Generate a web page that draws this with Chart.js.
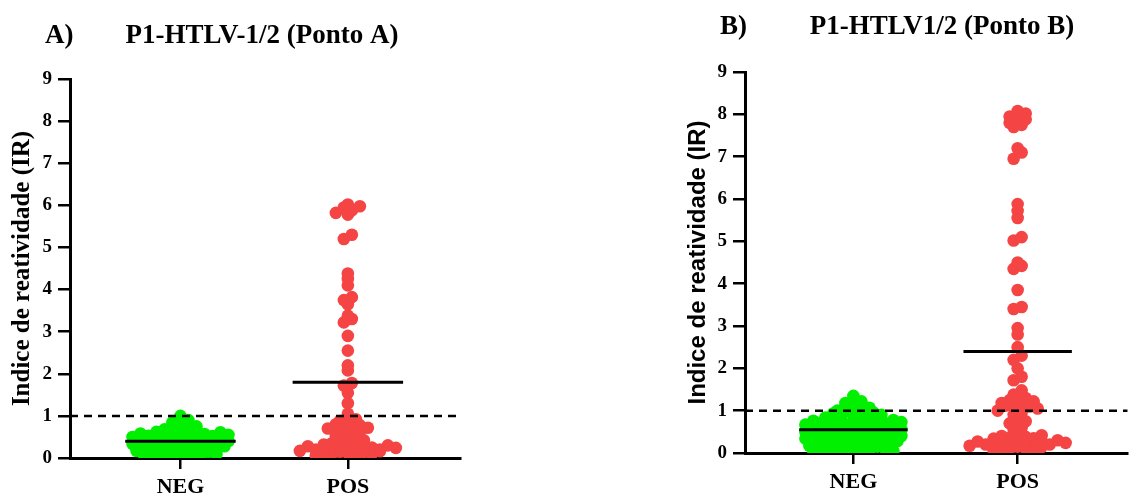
<!DOCTYPE html>
<html>
<head>
<meta charset="utf-8">
<script src="https://cdn.jsdelivr.net/npm/chart.js@4"></script>
<style>
  body { margin: 0; background: #fff; width: 1134px; height: 495px; position: relative; overflow: hidden; }
  .box { position: absolute; top: 0; height: 495px; }
</style>
</head>
<body>
<div class="box" style="left:0;width:470px"><canvas id="chartA"></canvas></div>
<div class="box" style="left:660px;width:474px"><canvas id="chartB"></canvas></div>
<script>
// categories and tick labels
const groups = ['NEG', 'POS'];
const yTicks = [0, 1, 2, 3, 4, 5, 6, 7, 8, 9];
const cutoff = 1;

// Ponto A
const negA = [0.02, 0.03, 0.05, 0.06, 0.08, 0.09, 0.11, 0.12, 0.14, 0.15,
  0.17, 0.18, 0.2, 0.21, 0.22, 0.24, 0.25, 0.26, 0.27, 0.28, 0.3, 0.32,
  0.34, 0.35, 0.36, 0.37, 0.38, 0.4, 0.41, 0.42, 0.43, 0.44, 0.46, 0.47, 0.48,
  0.5, 0.51, 0.52, 0.53, 0.54, 0.55, 0.56, 0.57, 0.58, 0.6, 0.61, 0.62, 0.64,
  0.68, 0.72, 0.75, 0.78, 0.81, 0.85, 0.9, 0.95, 1.0];
const posA = [0.06, 0.08, 0.1, 0.1, 0.12, 0.12, 0.14, 0.15, 0.16,
  0.17, 0.18, 0.2, 0.2, 0.22, 0.24, 0.25, 0.25, 0.28, 0.3, 0.3, 0.32, 0.32,
  0.35, 0.38, 0.42, 0.45, 0.48, 0.52, 0.55, 0.6, 0.62, 0.7, 0.72, 0.75, 0.78, 0.8, 0.82,
  0.88, 0.92, 0.95, 1.05,
  1.3, 1.55, 1.72, 1.78, 2.08, 2.2, 2.55, 2.9, 3.22, 3.3, 3.38, 3.65, 3.75, 3.82,
  4.1, 4.25, 4.38, 5.2, 5.3, 5.78, 5.82, 5.88, 5.95, 5.98, 6.02];
const meansA = [0.4, 1.8];

// Ponto B
const negB = [0.01, 0.02, 0.04, 0.05, 0.06, 0.08, 0.09, 0.1, 0.12, 0.13, 0.15,
  0.17, 0.18, 0.19, 0.2, 0.22, 0.23, 0.24, 0.25, 0.27, 0.28, 0.3, 0.32,
  0.34, 0.35, 0.36, 0.37, 0.38, 0.4, 0.41, 0.42, 0.44, 0.45, 0.46, 0.47, 0.48,
  0.5, 0.51, 0.52, 0.53, 0.55, 0.56, 0.57, 0.58, 0.59, 0.6, 0.62, 0.63, 0.64,
  0.67, 0.68, 0.7, 0.71, 0.72, 0.73, 0.74, 0.75, 0.76, 0.77, 0.78, 0.8, 0.81,
  0.84, 0.86, 0.88, 0.9, 0.92, 0.94, 0.96, 0.98,
  1.0, 1.04, 1.07, 1.1, 1.14, 1.18, 1.22, 1.28, 1.35];
const posB = [0.06, 0.08, 0.1, 0.1, 0.12, 0.14, 0.15,
  0.17, 0.18, 0.2, 0.2, 0.22, 0.24, 0.25, 0.26, 0.27, 0.28, 0.3, 0.3, 0.32,
  0.34, 0.35, 0.36, 0.38, 0.4, 0.42, 0.45, 0.55, 0.6, 0.7, 0.75, 0.8, 0.9, 0.95,
  1.0, 1.05, 1.08, 1.1, 1.12, 1.15, 1.18, 1.2, 1.22, 1.25, 1.3, 1.38, 1.48,
  1.72, 1.8, 2.0, 2.2, 2.3, 2.5, 2.8, 2.95, 3.4, 3.45, 3.85, 4.35, 4.42, 4.5,
  5.02, 5.1, 5.55, 5.72, 5.88, 6.95, 7.1, 7.2, 7.7, 7.75, 7.8, 7.88, 7.92, 7.95, 8.02, 8.08];
const meansB = [0.55, 2.4];

const GREEN = '#00f000';
const RED = '#f54444';
const X_MIN = 0.34, X_MAX = 2.67, HALF = 0.33;

// draws "A)" and the panel title
const panelTitle = {
  id: 'panelTitle',
  afterDraw(chart, args, o) {
    const ctx = chart.ctx;
    ctx.save();
    ctx.fillStyle = '#000';
    ctx.font = 'bold 27px "Liberation Serif"';
    ctx.textBaseline = 'middle';
    ctx.textAlign = 'left';
    ctx.fillText(o.letter, o.letterX, o.y);
    ctx.textAlign = 'center';
    ctx.fillText(o.text, o.textX, o.y);
    ctx.restore();
  }
};

// scatter-dot layout: group points into pixel rows, spread each row around the category centre
function swarm(chart, rowH, gap, maxW) {
  const xs = chart.scales.x, ys = chart.scales.y;
  const base = ys.getPixelForValue(0);
  chart.data.datasets.forEach(ds => {
    if (!ds.raw) return;
    const cx = xs.getPixelForValue(ds.group);
    const rows = {};
    ds.raw.forEach(v => {
      const k = Math.floor((base - ys.getPixelForValue(v)) / rowH);
      (rows[k] = rows[k] || []).push(v);
    });
    const out = [];
    Object.values(rows).forEach(r => {
      r.sort((a, b) => a - b);
      const n = r.length;
      const step = n > 1 ? Math.min(gap, maxW / (n - 1)) : 0;
      // mix the order so height in a row does not follow the horizontal slot
      const slots = r.map((_, i) => i).sort((a, b) => ((a * 0.618) % 1) - ((b * 0.618) % 1));
      r.forEach((v, i) => {
        out.push({ x: xs.getValueForPixel(cx + (slots[i] - (n - 1) / 2) * step), y: v });
      });
    });
    ds.data = out;
  });
  chart.update('none');
}

function makeChart(id, neg, pos, means, s) {
  const chart = new Chart(document.getElementById(id), {
    type: 'scatter',
    data: {
      datasets: [
        { data: [{ x: X_MIN, y: cutoff }, { x: X_MAX, y: cutoff }], showLine: true, pointRadius: 0,
          borderColor: '#000', borderWidth: 2.5, borderDash: [8, 6], order: 0 },
        { data: [{ x: 1 - HALF, y: means[0] }, { x: 1 + HALF, y: means[0] }], showLine: true, pointRadius: 0,
          borderColor: '#000', borderWidth: 3, order: 0 },
        { data: [{ x: 2 - HALF, y: means[1] }, { x: 2 + HALF, y: means[1] }], showLine: true, pointRadius: 0,
          borderColor: '#000', borderWidth: 3, order: 0 },
        { raw: neg, group: 1, data: neg.map(v => ({ x: 1, y: v })), backgroundColor: GREEN,
          pointRadius: 6.3, pointBorderWidth: 0, order: 2 },
        { raw: pos, group: 2, data: pos.map(v => ({ x: 2, y: v })), backgroundColor: RED,
          pointRadius: 6.3, pointBorderWidth: 0, order: 2 }
      ]
    },
    options: {
      responsive: true,
      maintainAspectRatio: false,
      animation: false,
      layout: { padding: { top: s.top, right: s.right, left: 0, bottom: 0 } },
      plugins: {
        legend: { display: false },
        tooltip: { enabled: false },
        panelTitle: s.title
      },
      scales: {
        x: {
          type: 'linear', min: X_MIN, max: X_MAX,
          afterBuildTicks: sc => { sc.ticks = groups.map((g, i) => ({ value: i + 1 })); },
          afterFit: sc => { sc.height = s.xh; },
          ticks: { callback: (v, i) => groups[i], color: '#000', padding: 5,
            font: { family: 'Liberation Serif', weight: 'bold', size: 22 } },
          grid: { drawOnChartArea: false, tickLength: 11, color: '#000', lineWidth: 2.5 },
          border: { color: '#000', width: 3 }
        },
        y: {
          min: 0, max: 9,
          afterBuildTicks: sc => { sc.ticks = yTicks.map(v => ({ value: v })); },
          afterFit: sc => { sc.width = s.yw; },
          ticks: { color: '#000', padding: 6,
            font: { family: 'Liberation Serif', weight: 'bold', size: 19 } },
          grid: { drawOnChartArea: false, tickLength: 12, color: '#000', lineWidth: 2.5 },
          border: { color: '#000', width: 3 },
          title: { display: true, text: 'Indice de reatividade (IR)', color: '#000',
            padding: { top: s.titlePad }, font: s.yFont }
        }
      }
    },
    plugins: [panelTitle]
  });
  swarm(chart, 7, 8, 98);
  return chart;
}

makeChart('chartA', negA, posA, meansA, {
  top: 79, right: 10, xh: 37, yw: 70, titlePad: 8,
  yFont: { family: 'Liberation Serif', weight: 'bold', size: 25 },
  title: { letter: 'A)', letterX: 45, text: 'P1-HTLV-1/2 (Ponto A)', textX: 262, y: 36 }
});

makeChart('chartB', negB, posB, meansB, {
  top: 72, right: 0, xh: 42, yw: 85, titlePad: 24,
  yFont: { family: 'Liberation Sans', weight: 'bold', size: 24 },
  title: { letter: 'B)', letterX: 60, text: 'P1-HTLV1/2 (Ponto B)', textX: 282, y: 27 }
});
</script>
</body>
</html>
